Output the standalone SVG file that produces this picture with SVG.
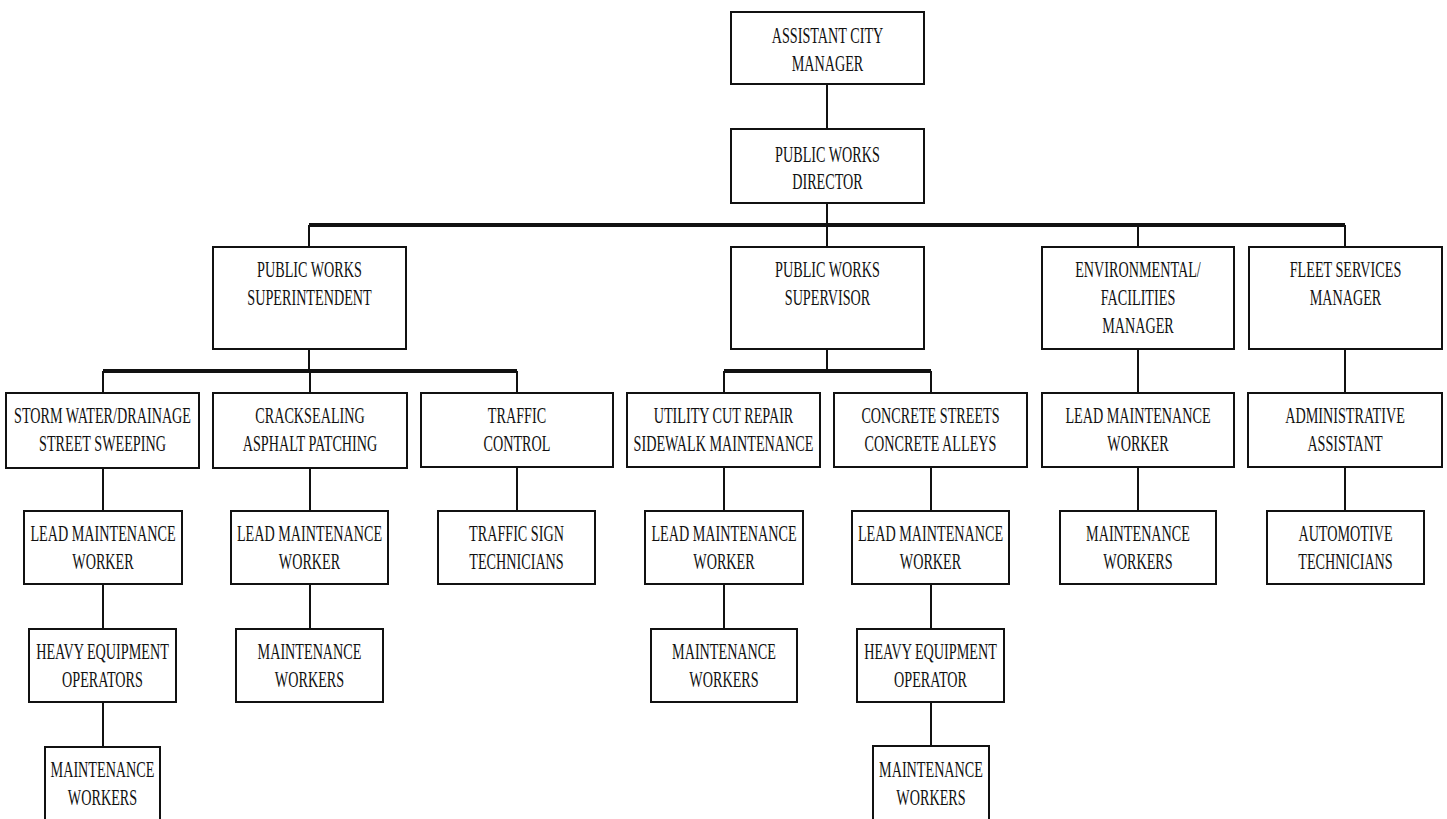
<svg xmlns="http://www.w3.org/2000/svg" width="1447" height="819" viewBox="0 0 1447 819">
<style>
.box{fill:#fff;stroke:#111;stroke-width:2}
.t{font-family:"Liberation Serif","Times New Roman",serif;font-size:22.5px;fill:#111;text-anchor:middle}
.c{stroke:#111;stroke-width:2;fill:none}
.bar{stroke:#111;stroke-width:4;fill:none}
</style>
<rect width="1447" height="819" fill="#fff"/>
<g id="connectors">
<path class="c" d="M827 84V129M827 203V247M309 225V247M1138 225V247M1345 225V247"/>
<path class="bar" d="M309 225H1345"/>
<path class="c" d="M309 349V371M103 371V393M310 371V393M517 371V393"/>
<path class="bar" d="M103 371H517"/>
<path class="c" d="M827 349V371M724 371V393M931 371V393"/>
<path class="bar" d="M724 371H931"/>
<path class="c" d="M1138 349V393M1345 349V393"/>
<path class="c" d="M103 468V511M103 584V629M103 702V747"/>
<path class="c" d="M310 468V511M310 584V629"/>
<path class="c" d="M517 467V511"/>
<path class="c" d="M724 467V511M724 584V629"/>
<path class="c" d="M931 467V511M931 584V629M931 702V746"/>
<path class="c" d="M1138 467V511M1345 467V511"/>
</g>
<g id="acm"><rect class="box" x="731" y="12" width="193" height="72"/><text class="t" transform="translate(827.5,0) scale(0.63,1)"><tspan x="0" y="43">ASSISTANT CITY</tspan><tspan x="0" y="71">MANAGER</tspan></text></g>
<g id="pwd"><rect class="box" x="731" y="129" width="193" height="74"/><text class="t" transform="translate(827.5,0) scale(0.63,1)"><tspan x="0" y="162">PUBLIC WORKS</tspan><tspan x="0" y="189">DIRECTOR</tspan></text></g>
<g id="superintendent"><rect class="box" x="213" y="247" width="193" height="102"/><text class="t" transform="translate(309.5,0) scale(0.63,1)"><tspan x="0" y="277">PUBLIC WORKS</tspan><tspan x="0" y="305">SUPERINTENDENT</tspan></text></g>
<g id="supervisor"><rect class="box" x="731" y="247" width="193" height="102"/><text class="t" transform="translate(827.5,0) scale(0.63,1)"><tspan x="0" y="277">PUBLIC WORKS</tspan><tspan x="0" y="305">SUPERVISOR</tspan></text></g>
<g id="envmgr"><rect class="box" x="1042" y="247" width="192" height="102"/><text class="t" transform="translate(1138,0) scale(0.63,1)"><tspan x="0" y="277">ENVIRONMENTAL/</tspan><tspan x="0" y="305">FACILITIES</tspan><tspan x="0" y="333">MANAGER</tspan></text></g>
<g id="fleetmgr"><rect class="box" x="1249" y="247" width="193" height="102"/><text class="t" transform="translate(1345.5,0) scale(0.63,1)"><tspan x="0" y="277">FLEET SERVICES</tspan><tspan x="0" y="305">MANAGER</tspan></text></g>
<g id="storm"><rect class="box" x="6" y="393" width="193" height="75"/><text class="t" transform="translate(102.5,0) scale(0.63,1)"><tspan x="0" y="423">STORM WATER/DRAINAGE</tspan><tspan x="0" y="451">STREET SWEEPING</tspan></text></g>
<g id="crack"><rect class="box" x="213" y="393" width="194" height="75"/><text class="t" transform="translate(310,0) scale(0.63,1)"><tspan x="0" y="423">CRACKSEALING</tspan><tspan x="0" y="451">ASPHALT PATCHING</tspan></text></g>
<g id="traffic"><rect class="box" x="421" y="393" width="192" height="74"/><text class="t" transform="translate(517,0) scale(0.63,1)"><tspan x="0" y="423">TRAFFIC</tspan><tspan x="0" y="451">CONTROL</tspan></text></g>
<g id="utility"><rect class="box" x="627" y="393" width="193" height="74"/><text class="t" transform="translate(723.5,0) scale(0.63,1)"><tspan x="0" y="423">UTILITY CUT REPAIR</tspan><tspan x="0" y="451">SIDEWALK MAINTENANCE</tspan></text></g>
<g id="concrete"><rect class="box" x="834" y="393" width="193" height="74"/><text class="t" transform="translate(930.5,0) scale(0.63,1)"><tspan x="0" y="423">CONCRETE STREETS</tspan><tspan x="0" y="451">CONCRETE ALLEYS</tspan></text></g>
<g id="envlead"><rect class="box" x="1042" y="393" width="192" height="74"/><text class="t" transform="translate(1138,0) scale(0.63,1)"><tspan x="0" y="423">LEAD MAINTENANCE</tspan><tspan x="0" y="451">WORKER</tspan></text></g>
<g id="admin"><rect class="box" x="1248" y="393" width="194" height="74"/><text class="t" transform="translate(1345,0) scale(0.63,1)"><tspan x="0" y="423">ADMINISTRATIVE</tspan><tspan x="0" y="451">ASSISTANT</tspan></text></g>
<g id="stormlead"><rect class="box" x="24" y="511" width="158" height="73"/><text class="t" transform="translate(103,0) scale(0.63,1)"><tspan x="0" y="541">LEAD MAINTENANCE</tspan><tspan x="0" y="569">WORKER</tspan></text></g>
<g id="cracklead"><rect class="box" x="231" y="511" width="157" height="73"/><text class="t" transform="translate(309.5,0) scale(0.63,1)"><tspan x="0" y="541">LEAD MAINTENANCE</tspan><tspan x="0" y="569">WORKER</tspan></text></g>
<g id="signtech"><rect class="box" x="438" y="511" width="157" height="73"/><text class="t" transform="translate(516.5,0) scale(0.63,1)"><tspan x="0" y="541">TRAFFIC SIGN</tspan><tspan x="0" y="569">TECHNICIANS</tspan></text></g>
<g id="utillead"><rect class="box" x="645" y="511" width="158" height="73"/><text class="t" transform="translate(724,0) scale(0.63,1)"><tspan x="0" y="541">LEAD MAINTENANCE</tspan><tspan x="0" y="569">WORKER</tspan></text></g>
<g id="conclead"><rect class="box" x="852" y="511" width="157" height="73"/><text class="t" transform="translate(930.5,0) scale(0.63,1)"><tspan x="0" y="541">LEAD MAINTENANCE</tspan><tspan x="0" y="569">WORKER</tspan></text></g>
<g id="envmaint"><rect class="box" x="1060" y="511" width="156" height="73"/><text class="t" transform="translate(1138,0) scale(0.63,1)"><tspan x="0" y="541">MAINTENANCE</tspan><tspan x="0" y="569">WORKERS</tspan></text></g>
<g id="autotech"><rect class="box" x="1267" y="511" width="157" height="73"/><text class="t" transform="translate(1345.5,0) scale(0.63,1)"><tspan x="0" y="541">AUTOMOTIVE</tspan><tspan x="0" y="569">TECHNICIANS</tspan></text></g>
<g id="stormheavy"><rect class="box" x="29" y="629" width="147" height="73"/><text class="t" transform="translate(102.5,0) scale(0.63,1)"><tspan x="0" y="659">HEAVY EQUIPMENT</tspan><tspan x="0" y="687">OPERATORS</tspan></text></g>
<g id="crackmaint"><rect class="box" x="236" y="629" width="147" height="73"/><text class="t" transform="translate(309.5,0) scale(0.63,1)"><tspan x="0" y="659">MAINTENANCE</tspan><tspan x="0" y="687">WORKERS</tspan></text></g>
<g id="utilmaint"><rect class="box" x="651" y="629" width="146" height="73"/><text class="t" transform="translate(724,0) scale(0.63,1)"><tspan x="0" y="659">MAINTENANCE</tspan><tspan x="0" y="687">WORKERS</tspan></text></g>
<g id="concheavy"><rect class="box" x="857" y="629" width="147" height="73"/><text class="t" transform="translate(930.5,0) scale(0.63,1)"><tspan x="0" y="659">HEAVY EQUIPMENT</tspan><tspan x="0" y="687">OPERATOR</tspan></text></g>
<g id="stormmaint"><rect class="box" x="45" y="747" width="115" height="75"/><text class="t" transform="translate(102.5,0) scale(0.63,1)"><tspan x="0" y="777">MAINTENANCE</tspan><tspan x="0" y="805">WORKERS</tspan></text></g>
<g id="concmaint"><rect class="box" x="873" y="746" width="116" height="76"/><text class="t" transform="translate(931,0) scale(0.63,1)"><tspan x="0" y="777">MAINTENANCE</tspan><tspan x="0" y="805">WORKERS</tspan></text></g>
</svg>
